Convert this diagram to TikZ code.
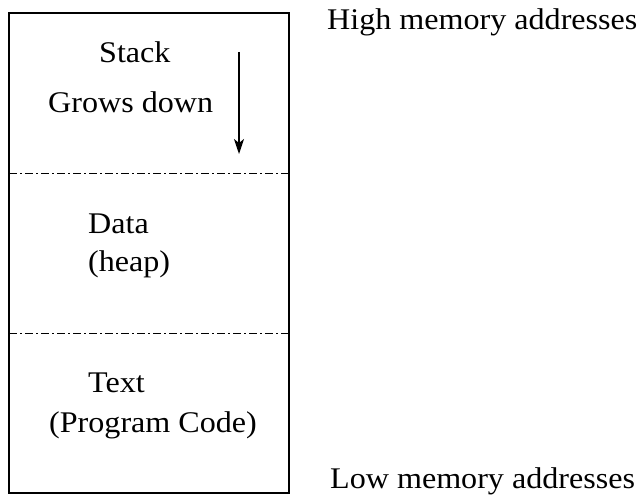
\documentclass[tikz,border=0pt]{standalone}
\usepackage{fontspec}
\setmainfont{Liberation Serif}[FakeStretch=1.07]
\usetikzlibrary{arrows.meta}
\begin{document}
\begin{tikzpicture}[x=1pt,y=-1pt,
  label/.style={anchor=base west,inner sep=0pt,font=\fontsize{30}{36}\selectfont},
  frame/.style={draw=black,line width=1.4pt},
  divider/.style={draw=black,line width=1pt,dash pattern=on 8pt off 3pt on 2pt off 3pt},
  growth/.style={draw=black,line width=1.4pt,-{Stealth[length=15pt,width=10pt,inset=4pt]}}]
  \useasboundingbox (0,0) rectangle (639,495);
  % memory block and its three regions
  \coordinate (tl) at (9,13);
  \coordinate (br) at (289,493);
  \draw[frame] (tl) rectangle (br);
  \coordinate (d1l) at (9,173);
  \coordinate (d1r) at (289,173);
  \coordinate (d2l) at (9,333);
  \coordinate (d2r) at (289,333);
  \draw[divider] (d1l) -- (d1r);
  \draw[divider] (d2l) -- (d2r);
  % stack region
  \node[label] (stack) at (99,63) {Stack};
  \node[label] (grows) at (48,112) {Grows down};
  \coordinate (arrtop) at (239,52);
  \coordinate (arrbot) at (239,154);
  \draw[growth] (arrtop) -- (arrbot);
  % data region
  \node[label] (data) at (88,233) {Data};
  \node[label] (heap) at (88,271) {(heap)};
  % text region
  \node[label] (text) at (88,392) {Text};
  \node[label] (code) at (49,432) {(Program Code)};
  % address labels
  \node[label] (high) at (327,30) {High memory addresses};
  \node[label] (low) at (330,488) {Low memory addresses};
\end{tikzpicture}
\end{document}
